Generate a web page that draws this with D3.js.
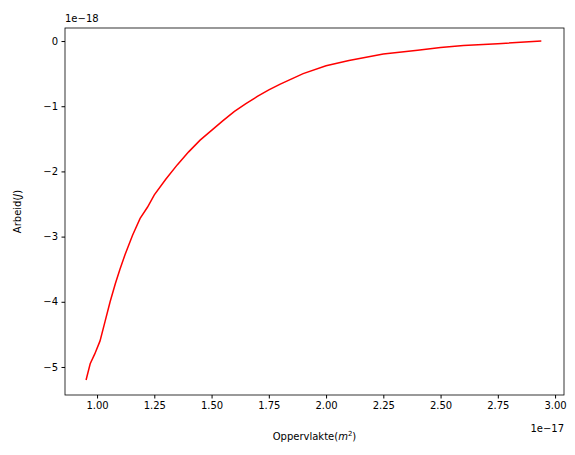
<!DOCTYPE html><html><head><script src="https://d3js.org/d3.v7.min.js"></script>
<style>body{margin:0;background:#fff}text{font-family:"DejaVu Sans",sans-serif;font-size:12px;fill:#000}</style></head><body>
<svg id="c" width="575" height="455"></svg>
<script>
const xVals=[0.952,0.97,0.99,1.013,1.035,1.057,1.08,1.1,1.122,1.155,1.188,1.22,1.25,1.3,1.35,1.4,1.45,1.5,1.55,1.6,1.65,1.7,1.75,1.8,1.85,1.9,2.0,2.1,2.25,2.4,2.5,2.6,2.75,2.94];
const yVals=[-5.2,-4.95,-4.8,-4.6,-4.3,-4.0,-3.72,-3.5,-3.28,-2.98,-2.72,-2.55,-2.36,-2.12,-1.9,-1.7,-1.52,-1.37,-1.22,-1.08,-0.96,-0.85,-0.75,-0.66,-0.58,-0.5,-0.38,-0.3,-0.2,-0.14,-0.1,-0.07,-0.04,0.0];
const xTicks=[1.00,1.25,1.50,1.75,2.00,2.25,2.50,2.75,3.00];
const yTicks=[0,-1,-2,-3,-4,-5];
const svg=d3.select("#c");
const L=65,R=564,T=28,B=395;
const x=d3.scaleLinear().domain([0.86,3.039]).range([L,R]);
const y=d3.scaleLinear().domain([-5.43,0.2]).range([B,T]);
svg.append("g").attr("transform",`translate(0,${B})`).call(d3.axisBottom(x).tickValues(xTicks).tickFormat(d3.format(".2f")).tickSizeOuter(0).tickSize(3.5).tickPadding(3.5)).call(g=>g.selectAll("text").style("font-size","10px").style("font-family","DejaVu Sans"));
svg.append("g").attr("transform",`translate(${L},0)`).call(d3.axisLeft(y).tickValues(yTicks).tickFormat(d=>d<0?"\u2212"+(-d):d).tickSizeOuter(0).tickSize(3.5).tickPadding(3.5)).call(g=>g.selectAll("text").style("font-size","10px").style("font-family","DejaVu Sans"));
svg.selectAll(".domain").remove();
svg.append("rect").attr("x",L).attr("y",T).attr("width",R-L).attr("height",B-T).attr("fill","none").attr("stroke","#000").attr("stroke-width",0.8);
svg.append("path").datum(xVals.map((v,i)=>[v,yVals[i]])).attr("fill","none").attr("stroke","red").attr("stroke-width",1.5)
 .attr("d",d3.line().x(d=>x(d[0])).y(d=>y(d[1])));
svg.append("text").attr("x",L).attr("y",T-6).style("font-size","10px").text("1e\u221218");
svg.append("text").attr("x",R).attr("y",432).attr("text-anchor","end").style("font-size","10px").text("1e\u221217");
const xl=svg.append("text").attr("x",(L+R)/2).attr("y",440).attr("text-anchor","middle").style("font-size","10px");
xl.append("tspan").text("Oppervlakte(");xl.append("tspan").attr("font-style","italic").text("m");
xl.append("tspan").attr("dy",-4).style("font-size","7px").text("2");xl.append("tspan").attr("dy",4).text(")");
const yl=svg.append("text").attr("transform",`translate(21,${(T+B)/2}) rotate(-90)`).attr("text-anchor","middle").style("font-size","10px");
yl.append("tspan").text("Arbeid(");yl.append("tspan").attr("font-style","italic").text("J");yl.append("tspan").text(")");
</script></body></html>
